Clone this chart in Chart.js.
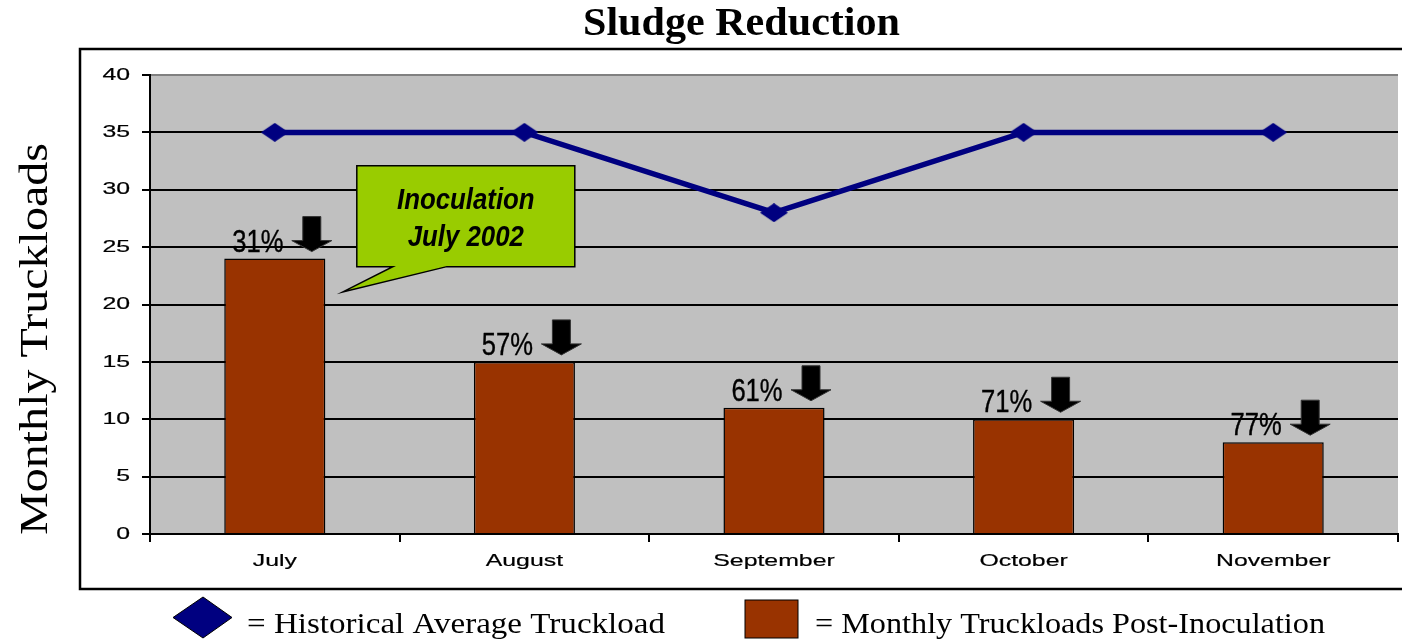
<!DOCTYPE html>
<html><head><meta charset="utf-8">
<script src="https://cdn.jsdelivr.net/npm/chart.js@4.4.1/dist/chart.umd.min.js"></script>
<style>html,body{margin:0;padding:0;background:#fff;overflow:hidden}canvas{display:block}</style>
</head><body>
<canvas id="c" width="1402" height="641"></canvas>
<script>
// ---- data ----
const categories = ['July', 'August', 'September', 'October', 'November'];
const monthlyTruckloads = [24, 15, 11, 10, 8];
const historicalAverage = [35, 35, 28, 35, 35];
const reductionLabels = ['31%', '57%', '61%', '71%', '77%'];
const yMin = 0, yMax = 40, yStep = 5;
const chartTitle = 'Sludge Reduction';
const yAxisTitle = 'Monthly Truckloads';
const calloutLines = ['Inoculation', 'July 2002'];
const legendHistorical = '= Historical Average Truckload';
const legendMonthly = '= Monthly Truckloads Post-Inoculation';

const SERIF = '"Liberation Serif", "Times New Roman", serif';
const SANS = '"Liberation Sans", Arial, sans-serif';

function textW(ctx, text, font) { ctx.save(); ctx.font = font; const w = ctx.measureText(text).width; ctx.restore(); return w; }
function drawText(ctx, text, x, y, font, sx, align, baseline, color, strokeW) {
  ctx.save();
  ctx.translate(x, y);
  ctx.scale(sx, 1);
  ctx.font = font;
  ctx.textAlign = align || 'left';
  ctx.textBaseline = baseline || 'alphabetic';
  ctx.fillStyle = color || '#000';
  ctx.fillText(text, 0, 0);
  if (strokeW) { ctx.strokeStyle = color || '#000'; ctx.lineWidth = strokeW; ctx.lineJoin = 'round'; ctx.strokeText(text, 0, 0); }
  ctx.restore();
}

// diamond point marker (wider than tall)
const diamond = document.createElement('canvas');
diamond.width = 28; diamond.height = 19;
(function () {
  const d = diamond.getContext('2d');
  d.fillStyle = '#000080';
  d.beginPath(); d.moveTo(14, 0); d.lineTo(28, 9.5); d.lineTo(14, 19); d.lineTo(0, 9.5); d.closePath(); d.fill();
})();

function drawArrow(ctx, cx, tipY) {
  ctx.save();
  ctx.fillStyle = '#000';
  ctx.strokeStyle = '#333';
  ctx.lineWidth = 1;
  ctx.beginPath();
  ctx.moveTo(cx - 9, tipY - 35);
  ctx.lineTo(cx + 9, tipY - 35);
  ctx.lineTo(cx + 9, tipY - 11);
  ctx.lineTo(cx + 20, tipY - 11);
  ctx.lineTo(cx, tipY);
  ctx.lineTo(cx - 20, tipY - 11);
  ctx.lineTo(cx - 9, tipY - 11);
  ctx.closePath();
  ctx.fill(); ctx.stroke();
  ctx.restore();
}

const decor = {
  id: 'decor',
  beforeDraw(chart) {
    const { ctx, chartArea: a } = chart;
    ctx.save();
    ctx.fillStyle = '#fff';
    ctx.fillRect(0, 0, chart.width, chart.height);
    ctx.fillStyle = '#C0C0C0';
    ctx.fillRect(a.left, a.top, a.right - a.left, a.bottom - a.top);
    ctx.restore();
  },
  afterDatasetsDraw(chart) {
    const { ctx } = chart;
    const ys = chart.scales.y;
    const meta = chart.getDatasetMeta(1);
    meta.data.forEach((bar, i) => {
      const top = bar.y;
      drawText(ctx, reductionLabels[i], bar.x - 17, top - 7, '32px ' + SANS, 0.8, 'center', 'alphabetic', '#000', 0.4);
      drawArrow(ctx, bar.x + 37, top - 7);
    });
    // callout anchored to July bar
    const b0 = meta.data[0];
    const bx = b0.x;
    const L = bx + 82, R = bx + 300, T = ys.getPixelForValue(32.1), B = ys.getPixelForValue(23.3);
    const tipX = bx + 68, tipY = ys.getPixelForValue(21.1);
    ctx.save();
    ctx.beginPath();
    ctx.moveTo(L, T); ctx.lineTo(R, T); ctx.lineTo(R, B);
    ctx.lineTo(bx + 172, B); ctx.lineTo(tipX, tipY); ctx.lineTo(bx + 118, B);
    ctx.lineTo(L, B); ctx.closePath();
    ctx.fillStyle = '#99CC00'; ctx.fill();
    ctx.strokeStyle = '#000'; ctx.lineWidth = 1.5; ctx.stroke();
    ctx.restore();
    const cx = (L + R) / 2;
    const cf = 'italic bold 30px ' + SANS;
    drawText(ctx, calloutLines[0], cx, T + 43, cf, 0.86, 'center');
    drawText(ctx, calloutLines[1], cx, T + 80, cf, 0.86, 'center');
  },
  afterDraw(chart) {
    const { ctx, chartArea: a } = chart;
    const xs = chart.scales.x, ys = chart.scales.y;
    // tick labels
    const tf = '17px ' + SANS;
    ys.ticks.forEach(t => {
      drawText(ctx, String(t.value), a.left - 20, ys.getPixelForValue(t.value), tf, 1.46, 'right', 'middle', '#000', 0.2);
    });
    categories.forEach((c, i) => {
      drawText(ctx, c, xs.getPixelForValue(i), a.bottom + 32, tf, 1.46, 'center', 'alphabetic', '#000', 0.2);
    });
    // outer box
    ctx.save();
    ctx.strokeStyle = '#000'; ctx.lineWidth = 2.5;
    ctx.strokeRect(80, 49, 1330, 540);
    ctx.restore();
    // title
    const tfont = 'bold 40px ' + SERIF;
    drawText(ctx, chartTitle, 741.5, 35, tfont, 317 / textW(ctx, chartTitle, tfont), 'center');
    // y axis title
    const yf = '41px ' + SERIF;
    ctx.save();
    ctx.translate(47, 339);
    ctx.rotate(-Math.PI / 2);
    drawText(ctx, yAxisTitle, 0, 0, yf, 392 / textW(ctx, yAxisTitle, yf), 'center');
    ctx.restore();
    // legend
    ctx.save();
    ctx.fillStyle = '#000080'; ctx.strokeStyle = '#000'; ctx.lineWidth = 1;
    ctx.beginPath();
    ctx.moveTo(203, 597); ctx.lineTo(232, 617.5); ctx.lineTo(203, 638); ctx.lineTo(173, 617.5); ctx.closePath();
    ctx.fill(); ctx.stroke();
    ctx.fillStyle = '#993300';
    ctx.fillRect(745, 600, 53, 38); ctx.strokeRect(745, 600, 53, 38);
    ctx.restore();
    const lf = '30px ' + SERIF;
    drawText(ctx, legendHistorical, 247, 633, lf, 418 / textW(ctx, legendHistorical, lf), 'left');
    drawText(ctx, legendMonthly, 815, 633, lf, 510 / textW(ctx, legendMonthly, lf), 'left');
  }
};

new Chart(document.getElementById('c'), {
  data: {
    labels: categories,
    datasets: [
      {
        type: 'line', label: 'Historical Average Truckload', data: historicalAverage,
        borderColor: '#000080', borderWidth: 5.5, backgroundColor: '#000080',
        pointStyle: diamond, pointRadius: 9, tension: 0, order: 0
      },
      {
        type: 'bar', label: 'Monthly Truckloads Post-Inoculation', data: monthlyTruckloads,
        backgroundColor: '#993300', borderColor: '#000', borderWidth: 1.5,
        categoryPercentage: 1, barPercentage: 0.405, order: 1
      }
    ]
  },
  options: {
    responsive: false, animation: false, devicePixelRatio: 1,
    layout: { autoPadding: false, padding: { left: 90, top: 75, right: 4, bottom: 0 } },
    plugins: { legend: { display: false }, title: { display: false }, tooltip: { enabled: false } },
    scales: {
      x: {
        offset: true,
        grid: { offset: true, drawOnChartArea: false, drawTicks: true, tickLength: 8, color: '#000', lineWidth: 2 },
        border: { color: '#000', width: 2 },
        ticks: { display: false },
        afterFit(s) { s.height = 107; }
      },
      y: {
        min: yMin, max: yMax,
        grid: {
          drawTicks: true, tickLength: 8, lineWidth: 2,
          color: c => (c.tick && c.tick.value === yMax ? '#808080' : '#000'),
          tickColor: '#000'
        },
        border: { color: '#000', width: 2 },
        ticks: { display: false, stepSize: yStep },
        afterFit(s) { s.width = 60; }
      }
    }
  },
  plugins: [decor]
});
</script>
</body></html>
